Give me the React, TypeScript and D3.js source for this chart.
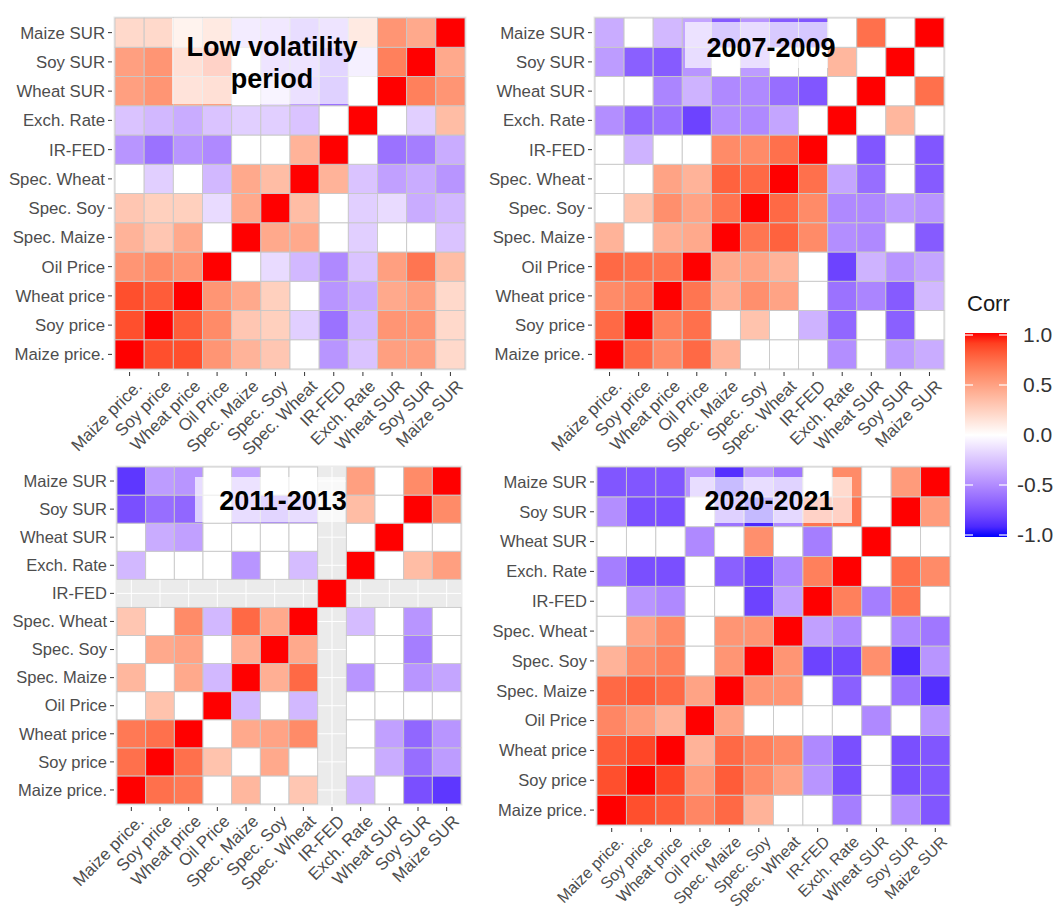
import React from "react";
import * as d3 from "d3";

const W = 1058;
const H = 909;
const FONT = "'Liberation Sans', Arial, Helvetica, sans-serif";

// variable order, left-to-right on x and bottom-to-top on y
const VARS = [
  "Maize price.",
  "Soy price",
  "Wheat price",
  "Oil Price",
  "Spec. Maize",
  "Spec. Soy",
  "Spec. Wheat",
  "IR-FED",
  "Exch. Rate",
  "Wheat SUR",
  "Soy SUR",
  "Maize SUR",
];

// lower triangles (row i holds corr with VARS[0..i-1]); 0 = not significant, null = NA
const lowVolatility = [
  [0.85],
  [0.85, 0.8],
  [0.55, 0.6, 0.55],
  [0.4, 0.3, 0.45, 0],
  [0.3, 0.25, 0.25, -0.15, 0.45],
  [0, -0.2, 0, -0.3, 0.45, 0.35],
  [-0.45, -0.6, -0.45, -0.5, 0, 0, 0.4],
  [-0.25, -0.3, -0.35, -0.25, -0.2, -0.2, -0.25, 0],
  [0.5, 0.55, 0.45, 0.5, 0, -0.15, -0.4, -0.6, 0],
  [0.5, 0.55, 0.5, 0.7, 0, -0.35, -0.35, -0.55, -0.2, 0.65],
  [0.2, 0.2, 0.2, 0.35, -0.25, -0.3, -0.45, -0.35, 0.35, 0.55, 0.45],
];

const crisis0709 = [
  [0.75],
  [0.6, 0.65],
  [0.75, 0.72, 0.7],
  [0.4, 0, 0.42, 0.45],
  [0, 0.32, 0.58, 0.48, 0.7],
  [0, 0, 0.48, 0.4, 0.78, 0.75],
  [0, -0.32, 0, 0, 0.6, 0.6, 0.72],
  [-0.48, -0.65, -0.6, -0.8, -0.48, -0.5, -0.38, 0],
  [0, 0, -0.52, -0.32, -0.5, -0.5, -0.62, -0.72, 0],
  [-0.42, -0.68, -0.7, -0.45, 0, -0.42, 0, 0, 0.38, 0],
  [-0.35, 0, -0.3, -0.38, -0.7, -0.45, -0.7, -0.72, 0, 0.72, 0],
];

const period1113 = [
  [0.72],
  [0.68, 0.72],
  [0, 0.32, 0],
  [0.38, 0, 0.45, -0.3],
  [0, 0.45, 0.48, 0, 0.42],
  [0.3, 0, 0.6, -0.3, 0.75, 0.45],
  [null, null, null, null, null, null, null],
  [-0.3, 0, 0, 0, -0.45, 0, -0.28, null],
  [0, -0.35, -0.4, 0, 0, 0, 0, null, 0],
  [-0.75, -0.62, -0.65, 0, -0.45, -0.55, -0.45, null, 0.35, 0],
  [-0.85, -0.42, -0.45, 0, -0.38, 0, 0, null, 0.5, 0, 0.6],
];

const period2021 = [
  [0.85],
  [0.8, 0.88],
  [0.62, 0.52, 0.4],
  [0.75, 0.8, 0.75, 0.48],
  [0.4, 0.6, 0.65, 0, 0.55],
  [0, 0.48, 0.6, 0, 0.55, 0.55],
  [0, -0.45, -0.5, 0, 0, -0.8, -0.4],
  [-0.55, -0.75, -0.75, 0, -0.68, -0.78, -0.5, 0.65],
  [0, 0, 0, -0.5, 0, 0.58, 0, -0.55, 0],
  [-0.48, -0.75, -0.75, 0, -0.6, -0.9, -0.5, 0.7, 0.72, 0],
  [-0.72, -0.72, -0.72, -0.45, -0.88, -0.45, -0.58, 0, 0.6, 0, 0.52],
];

const legendTicks = [1, 0.5, 0, -0.5, -1];

const color = d3
  .scaleLinear()
  .domain([-1, 0, 1])
  .range(["#0000FF", "#FFFFFF", "#FF0000"] as any)
  .interpolate(d3.interpolateLab as any) as any;

function fullMatrix(lower: (number | null)[][]) {
  const n = VARS.length;
  const m: (number | null)[][] = [];
  for (let i = 0; i < n; i++) {
    m.push([]);
    for (let j = 0; j < n; j++) {
      if (i === j) m[i].push(1);
      else if (i > j) m[i].push(lower[i - 1][j]);
      else m[i].push(lower[j - 1][i]);
    }
  }
  return m;
}

const panels = [
  {
    key: "low",
    data: lowVolatility,
    x0: 115, x1: 465, y0: 18, y1: 369,
    box: { x: 172, y: 18, w: 205, h: 86 },
    title: ["Low volatility", "period"],
    tx: 272, ty: [56, 88],
    yFont: 16.8,
    xFont: 17,
  },
  {
    key: "0709",
    data: crisis0709,
    x0: 595, x1: 944, y0: 18, y1: 369,
    box: { x: 685, y: 22, w: 143, h: 46 },
    title: ["2007-2009"],
    tx: 771, ty: [57],
    yFont: 16.8,
    xFont: 17,
  },
  {
    key: "1113",
    data: period1113,
    x0: 117, x1: 461, y0: 467, y1: 804,
    box: { x: 195, y: 477, w: 150, h: 45 },
    title: ["2011-2013"],
    tx: 283, ty: [510],
    yFont: 16.5,
    xFont: 17,
  },
  {
    key: "2021",
    data: period2021,
    x0: 597, x1: 950, y0: 467, y1: 825,
    box: { x: 690, y: 477, w: 162, h: 46 },
    title: ["2020-2021"],
    tx: 769, ty: [510],
    yFont: 16.5,
    xFont: 16,
  },
];

function Heatmap({ p }: { p: any }) {
  const m = fullMatrix(p.data);
  const x = d3.scaleBand().domain(VARS).range([p.x0, p.x1]);
  const y = d3.scaleBand().domain([...VARS].reverse()).range([p.y0, p.y1]);
  const bw = x.bandwidth();
  const bh = y.bandwidth();
  return (
    <g>
      <rect
        x={p.x0 - 1.5}
        y={p.y0 - 1.5}
        width={p.x1 - p.x0 + 3}
        height={p.y1 - p.y0 + 3}
        fill="#EBEBEB"
      />
      {VARS.map((v) => (
        <g key={"g" + v}>
          <line x1={x(v)! + bw / 2} x2={x(v)! + bw / 2} y1={p.y0} y2={p.y1} stroke="#fff" strokeWidth={1} />
          <line y1={y(v)! + bh / 2} y2={y(v)! + bh / 2} x1={p.x0} x2={p.x1} stroke="#fff" strokeWidth={1} />
        </g>
      ))}
      {m.map((row, i) =>
        row.map((val, j) =>
          val === null ? null : (
            <rect
              key={i + "-" + j}
              x={x(VARS[j])}
              y={y(VARS[i])}
              width={bw}
              height={bh}
              fill={color(val)}
              stroke="#C8C8C8"
              strokeWidth={0.9}
            />
          )
        )
      )}
      {/* y axis */}
      {VARS.map((v) => (
        <g key={"y" + v}>
          <line x1={p.x0 - 7} x2={p.x0 - 3} y1={y(v)! + bh / 2} y2={y(v)! + bh / 2} stroke="#333" strokeWidth={1} />
          <text
            x={p.x0 - 10}
            y={y(v)! + bh / 2}
            dy="0.35em"
            textAnchor="end"
            fontSize={p.yFont}
            fill="#4D4D4D"
            fontFamily={FONT}
          >
            {v}
          </text>
        </g>
      ))}
      {/* x axis */}
      {VARS.map((v) => {
        const cx = x(v)! + bw / 2;
        return (
          <g key={"x" + v}>
            <line x1={cx} x2={cx} y1={p.y1 + 3} y2={p.y1 + 7} stroke="#333" strokeWidth={1} />
            <text
              transform={`translate(${cx + 5},${p.y1 + 10}) rotate(-45)`}
              dy="0.7em"
              textAnchor="end"
              fontSize={p.xFont}
              fill="#4D4D4D"
              fontFamily={FONT}
            >
              {v}
            </text>
          </g>
        );
      })}
      {/* period label */}
      <rect x={p.box.x} y={p.box.y} width={p.box.w} height={p.box.h} fill="#fff" opacity={0.68} />
      {p.title.map((t: string, k: number) => (
        <text
          key={t}
          x={p.tx}
          y={p.ty[k]}
          textAnchor="middle"
          fontSize={27}
          fontWeight="bold"
          fill="#000"
          fontFamily={FONT}
        >
          {t}
        </text>
      ))}
    </g>
  );
}

function Legend() {
  const bx = 965;
  const bwid = 42;
  const s = d3.scaleLinear().domain([1, -1]).range([335, 535]);
  const stops = d3.range(0, 21).map((k) => -1 + k * 0.1);
  return (
    <g>
      <defs>
        <linearGradient id="corrGrad" x1="0" y1="1" x2="0" y2="0">
          {stops.map((v) => (
            <stop key={v.toFixed(2)} offset={`${((v + 1) / 2) * 100}%`} stopColor={color(v)} />
          ))}
        </linearGradient>
      </defs>
      <text x={967} y={311} fontSize={22} fill="#1A1A1A" fontFamily={FONT}>
        Corr
      </text>
      <rect x={bx} y={s(1) - 2} width={bwid} height={s(-1) - s(1) + 4} fill="url(#corrGrad)" />
      {legendTicks.map((t) => (
        <g key={t}>
          <line x1={bx} x2={bx + 8} y1={s(t)} y2={s(t)} stroke="#fff" strokeWidth={1.2} />
          <line x1={bx + bwid - 8} x2={bx + bwid} y1={s(t)} y2={s(t)} stroke="#fff" strokeWidth={1.2} />
          <text
            x={t < 0 ? 1017 : 1023}
            y={s(t)}
            dy="0.35em"
            fontSize={21}
            fill="#333"
            fontFamily={FONT}
          >
            {t.toFixed(1)}
          </text>
        </g>
      ))}
    </g>
  );
}

export default function App() {
  return (
    <svg
      width={W}
      height={H}
      style={{ position: "absolute", left: 0, top: 0, background: "#fff" }}
    >
      {panels.map((p) => (
        <Heatmap key={p.key} p={p} />
      ))}
      <Legend />
    </svg>
  );
}
